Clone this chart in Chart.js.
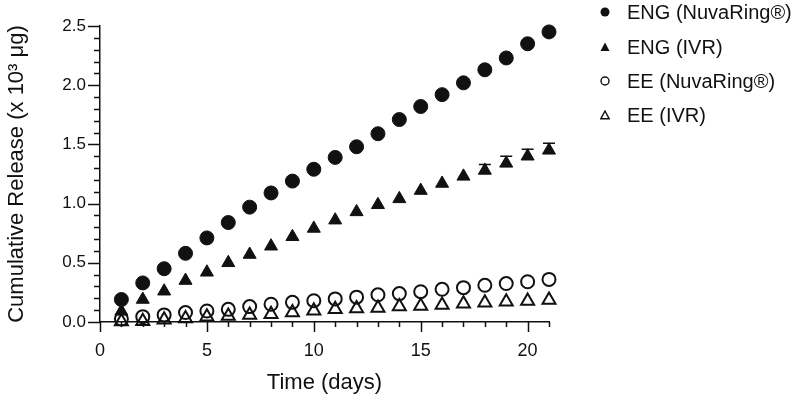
<!DOCTYPE html>
<html>
<head>
<meta charset="utf-8">
<script src="https://cdn.jsdelivr.net/npm/chart.js@4.4.1/dist/chart.umd.min.js"></script>
<style>
  html, body { margin: 0; padding: 0; background: #fff; }
  #wrap { position: relative; width: 800px; height: 401px; }
  #legend { position: absolute; left: 600px; top: 0; font-family: "Liberation Sans", Arial, sans-serif; font-size: 20px; color: #111; }
  #legend .row { position: absolute; left: 0; height: 24px; line-height: 24px; white-space: nowrap; }
  #legend svg { position: absolute; left: 0; top: 7px; }
  #legend span { position: absolute; left: 27px; top: 0; }
</style>
</head>
<body>
<div id="wrap">
  <canvas id="chart" width="800" height="401"></canvas>
  <div id="legend"></div>
</div>
<script>
const days = [1, 2, 3, 4, 5, 6, 7, 8, 9, 10, 11, 12, 13, 14, 15, 16, 17, 18, 19, 20, 21];

const engNuva = [0.19, 0.33, 0.45, 0.58, 0.71, 0.84, 0.97, 1.09, 1.19, 1.29, 1.39, 1.48, 1.59, 1.71, 1.82, 1.92, 2.02, 2.13, 2.23, 2.35, 2.45];
const engIvr = [0.09, 0.19, 0.26, 0.35, 0.42, 0.50, 0.57, 0.64, 0.72, 0.79, 0.86, 0.93, 0.99, 1.04, 1.11, 1.17, 1.23, 1.28, 1.34, 1.40, 1.45];
const engIvrErr = [0, 0, 0, 0, 0, 0, 0, 0, 0, 0, 0, 0, 0, 0, 0, 0, 0, 0.05, 0.06, 0.06, 0.06];
const eeNuva = [0.025, 0.045, 0.06, 0.08, 0.093, 0.107, 0.13, 0.15, 0.166, 0.18, 0.195, 0.21, 0.23, 0.24, 0.256, 0.276, 0.29, 0.31, 0.325, 0.34, 0.36];
const eeIvr = [0.004, 0.006, 0.02, 0.03, 0.045, 0.05, 0.06, 0.065, 0.08, 0.095, 0.107, 0.115, 0.118, 0.13, 0.135, 0.144, 0.155, 0.163, 0.17, 0.178, 0.185];

const seriesNames = ["ENG (NuvaRing®)", "ENG (IVR)", "EE (NuvaRing®)", "EE (IVR)"];

const FONT = "'Liberation Sans', Arial, sans-serif";
const INK = "#111";

function toPoints(values) {
  return days.map((d, i) => ({ x: d, y: values[i] }));
}

// outward ticks, long on labelled values, short in between
const axisTicks = {
  id: "axisTicks",
  afterDraw(chart) {
    const ctx = chart.ctx;
    const xs = chart.scales.x;
    const ys = chart.scales.y;
    const area = chart.chartArea;
    ctx.save();
    ctx.strokeStyle = INK;
    ctx.lineWidth = 1.5;
    ctx.beginPath();
    xs.ticks.forEach((t) => {
      const px = Math.round(xs.getPixelForValue(t.value)) + 0.5;
      const len = t.value % 5 === 0 ? 10 : 5;
      ctx.moveTo(px, area.bottom);
      ctx.lineTo(px, area.bottom + len);
    });
    ys.ticks.forEach((t) => {
      const py = Math.round(ys.getPixelForValue(t.value)) + 0.5;
      const len = Math.round(t.value * 10) % 5 === 0 ? 12 : 6;
      ctx.moveTo(area.left, py);
      ctx.lineTo(area.left - len, py);
    });
    ctx.stroke();
    ctx.restore();
  },
};

// upper error bars for ENG (IVR)
const errorBars = {
  id: "errorBars",
  beforeDatasetsDraw(chart) {
    const ctx = chart.ctx;
    const xs = chart.scales.x;
    const ys = chart.scales.y;
    ctx.save();
    ctx.strokeStyle = INK;
    ctx.lineWidth = 1.5;
    ctx.beginPath();
    engIvrErr.forEach((e, i) => {
      if (!e) return;
      const px = xs.getPixelForValue(days[i]);
      const y0 = ys.getPixelForValue(engIvr[i]);
      const y1 = ys.getPixelForValue(engIvr[i] + e);
      ctx.moveTo(px, y0);
      ctx.lineTo(px, y1);
      ctx.moveTo(px - 6, y1);
      ctx.lineTo(px + 6, y1);
    });
    ctx.stroke();
    ctx.restore();
  },
};

new Chart(document.getElementById("chart"), {
  type: "scatter",
  data: {
    datasets: [
      {
        label: seriesNames[0],
        data: toPoints(engNuva),
        pointStyle: "circle",
        pointRadius: 7,
        backgroundColor: INK,
        borderColor: INK,
        borderWidth: 1,
        clip: false,
      },
      {
        label: seriesNames[1],
        data: toPoints(engIvr),
        pointStyle: "triangle",
        pointRadius: 7.5,
        backgroundColor: INK,
        borderColor: INK,
        borderWidth: 1,
        clip: false,
      },
      {
        label: seriesNames[2],
        data: toPoints(eeNuva),
        pointStyle: "circle",
        pointRadius: 6.5,
        backgroundColor: "rgba(0,0,0,0)",
        borderColor: INK,
        borderWidth: 2,
        clip: false,
      },
      {
        label: seriesNames[3],
        data: toPoints(eeIvr),
        pointStyle: "triangle",
        pointRadius: 7.5,
        backgroundColor: "rgba(0,0,0,0)",
        borderColor: INK,
        borderWidth: 2,
        clip: false,
      },
    ],
  },
  options: {
    responsive: false,
    animation: false,
    layout: { padding: { top: 26, right: 251, left: 0, bottom: 0 } },
    plugins: {
      legend: { display: false },
      tooltip: { enabled: false },
    },
    scales: {
      x: {
        type: "linear",
        min: 0,
        max: 21,
        grid: { display: false, drawTicks: false },
        border: { display: true, color: INK, width: 1.5 },
        ticks: {
          stepSize: 1,
          autoSkip: false,
          maxRotation: 0,
          padding: 18,
          color: INK,
          font: { family: FONT, size: 18 },
          callback: (v) => (v % 5 === 0 ? String(v) : ""),
        },
        title: {
          display: true,
          text: "Time (days)",
          color: INK,
          font: { family: FONT, size: 22 },
          padding: { top: 4, bottom: 5 },
        },
        afterFit: (scale) => { scale.height = 79; },
      },
      y: {
        type: "linear",
        min: 0,
        max: 2.5,
        grid: { display: false, drawTicks: false },
        border: { display: true, color: INK, width: 1.5 },
        ticks: {
          stepSize: 0.1,
          autoSkip: false,
          padding: 14,
          color: INK,
          font: { family: FONT, size: 17 },
          callback: (v) => (Math.round(v * 10) % 5 === 0 ? v.toFixed(1) : ""),
        },
        title: {
          display: true,
          text: "Cumulative Release (x 10³ μg)",
          color: INK,
          font: { family: FONT, size: 22 },
          padding: { top: 4, bottom: 0 },
        },
        afterFit: (scale) => { scale.width = 100; },
      },
    },
  },
  plugins: [axisTicks, errorBars],
});

// legend on the right
const legendMarks = [
  '<circle cx="5" cy="5" r="4.5" fill="#111"/>',
  '<polygon points="5,0.5 9.5,9 0.5,9" fill="#111"/>',
  '<circle cx="5" cy="5" r="4" fill="none" stroke="#111" stroke-width="1.4"/>',
  '<polygon points="5,1 9.2,8.8 0.8,8.8" fill="none" stroke="#111" stroke-width="1.4"/>',
];
const legendTops = [0, 35, 69, 103];
const legendEl = document.getElementById("legend");
seriesNames.forEach((name, i) => {
  const row = document.createElement("div");
  row.className = "row";
  row.style.top = legendTops[i] + "px";
  row.innerHTML = '<svg width="10" height="10" viewBox="0 0 10 10">' + legendMarks[i] + "</svg><span>" + name + "</span>";
  legendEl.appendChild(row);
});
</script>
</body>
</html>
